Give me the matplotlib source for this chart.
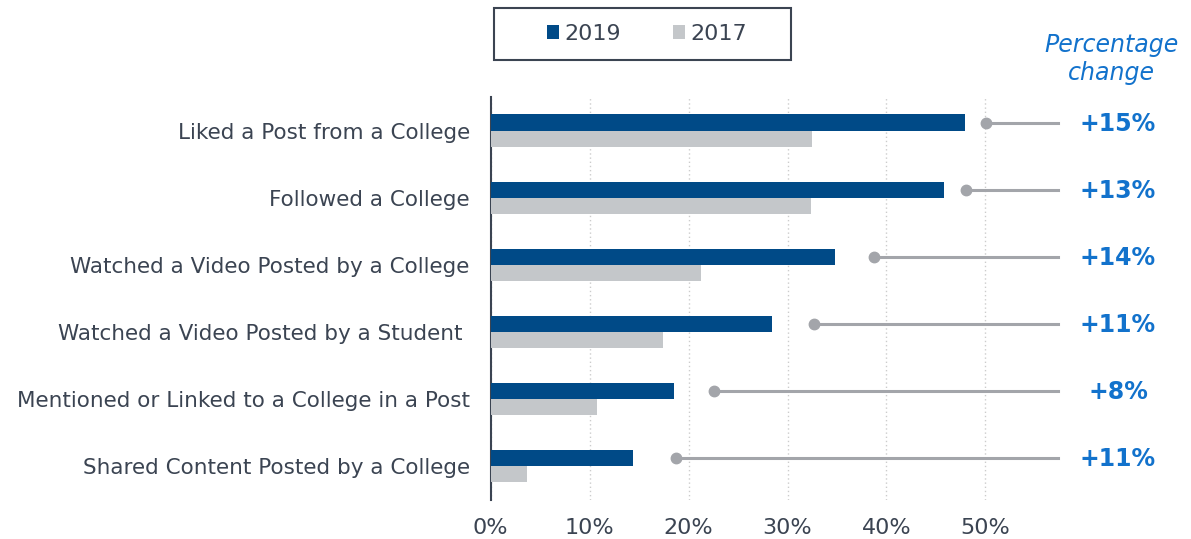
import matplotlib.pyplot as plt
from matplotlib.patches import Rectangle
import numpy as np

categories = ["Liked a Post from a College", "Followed a College",
              "Watched a Video Posted by a College", "Watched a Video Posted by a Student ",
              "Mentioned or Linked to a College in a Post", "Shared Content Posted by a College"]
v2019 = [47.9, 45.8, 34.8, 28.4, 18.5, 14.4]
v2017 = [32.5, 32.4, 21.3, 17.4, 10.7, 3.7]
dots = [50.1, 48.0, 38.7, 32.7, 22.6, 18.7]
changes = ["+15%", "+13%", "+14%", "+11%", "+8%", "+11%"]

blue = "#004a87"
grey = "#c4c7ca"
txt = "#3b4452"
accent = "#1272cc"

fig = plt.figure(figsize=(11.91, 5.39), dpi=100)
ax = fig.add_axes([0.412, 0.073, 0.476, 0.747])

y = np.arange(len(categories))
h = 0.24
ax.barh(y - h / 2, v2019, height=h, color=blue, label="2019", zorder=3)
ax.barh(y + h / 2, v2017, height=h, color=grey, label="2017", zorder=3)

xmax = 57.3
for yi, d in zip(y, dots):
    ax.plot([d, xmax], [yi - h / 2, yi - h / 2], color="#a3a5aa", lw=2.2, zorder=4, clip_on=False)
    ax.plot(d, yi - h / 2, "o", color="#a3a5aa", ms=7.5, zorder=5, clip_on=False)

ax.set_xlim(0, xmax)
ax.set_ylim(5.5, -0.5)
ax.set_yticks(y)
ax.set_yticklabels(categories, fontsize=15.5, color=txt)
ax.set_xticks([0, 10, 20, 30, 40, 50])
ax.set_xticklabels(["0%", "10%", "20%", "30%", "40%", "50%"], fontsize=16, color=txt)
ax.tick_params(length=0)
ax.tick_params(axis="x", pad=13)
ax.tick_params(axis="y", pad=15)
ax.grid(axis="x", color="#cccccc", linestyle=(0, (1, 2)), lw=1, zorder=0)
for s in ["top", "right", "bottom"]:
    ax.spines[s].set_visible(False)
ax.spines["left"].set_color("#3b4452")
ax.spines["left"].set_linewidth(1.5)

for yi, c in zip(y, changes):
    fig.text(1118 / 1191, 1 - (131 + yi * 67 - 7) / 539, c, ha="center", va="center",
             fontsize=17, fontweight="bold", color=accent)

fig.text(1111 / 1191, 1 - 59 / 539, "Percentage\nchange", ha="center", va="center",
         fontsize=17, style="italic", color=accent, linespacing=1.25)

leg = fig.legend(loc="center", bbox_to_anchor=(647 / 1191, 1 - 34 / 539), ncol=2,
                 fontsize=16, frameon=False, handlelength=0.55, handleheight=0.55,
                 handletextpad=0.25, columnspacing=2.3)
for t in leg.get_texts():
    t.set_color(txt)
fig.patches.append(Rectangle((494 / 1191, 1 - 60 / 539), 297 / 1191, 52 / 539,
                             transform=fig.transFigure, fill=False,
                             edgecolor="#3b4452", lw=1.5))

fig.savefig("out.png", dpi=100)
